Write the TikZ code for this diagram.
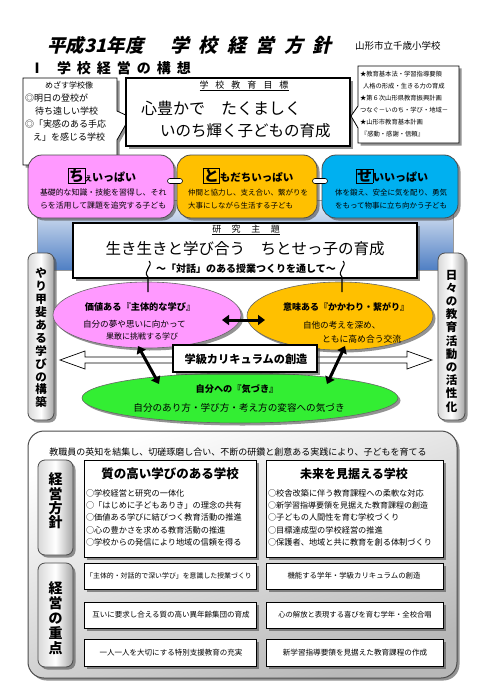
\documentclass[tikz,border=0pt]{standalone}
\usepackage{fontspec}
\setmainfont{Noto Sans CJK JP}
\newfontfamily\jpsl[FakeSlant=0.22]{Noto Sans CJK JP}
\usetikzlibrary{shapes.geometric,arrows.meta,shadows,calc}
\newcommand\fsz[1]{\fontsize{#1}{#1}\selectfont}
\newcommand\fszb[2]{\fontsize{#1}{#2}\selectfont}
\definecolor{cpink}{HTML}{FF99FF}
\definecolor{corange}{HTML}{FFC000}
\definecolor{cblue}{HTML}{00B0F0}
\definecolor{cgreen}{HTML}{33EE33}
\definecolor{bgblue}{HTML}{4F7FC4}
\tikzset{
 lbl/.style={inner sep=0pt, outer sep=0pt},
 bx/.style={draw=black, fill=white, line width=0.8pt, inner sep=0pt},
 shd/.style={drop shadow={shadow xshift=2.5pt, shadow yshift=-2.5pt, opacity=0.6, fill=black!70}},
 topbox/.style={draw=black!70, line width=0.8pt, rounded corners=14pt, minimum height=63pt, inner sep=0pt, shd},
 vbar/.style={draw=black!70, line width=0.8pt, rounded corners=7pt, inner sep=0pt, left color=black!15, right color=black!35, middle color=white, shd},
 ell/.style={ellipse, draw=black!60, line width=0.6pt, inner sep=0pt, shd},
 dblarr/.style={{Triangle[length=7pt,width=10pt]}-{Triangle[length=7pt,width=10pt]}, line width=3pt},
 squig/.style={draw=black, line width=1.1pt},
}
\begin{document}
\begin{tikzpicture}[x=1pt,y=-1pt]
\useasboundingbox (0,0) rectangle (483,693);
\fill[white] (0,0) rectangle (483,693);

% title
\node[lbl, anchor=west, font=\jpsl\bfseries\fsz{18.5}] (t1) at (47,45) {平成31年度};
\node[lbl, anchor=west, font=\jpsl\bfseries\fsz{19}] (t2) at (170,45) {学\hspace{9.5pt}校\hspace{9.5pt}経\hspace{9.5pt}営\hspace{9.5pt}方\hspace{9.5pt}針};
\node[lbl, anchor=west, font=\fsz{9.5}] (school) at (355,46) {山形市立千歳小学校};
\node[lbl, font=\bfseries\fsz{14}] (secn) at (37,68) {Ⅰ};
\node[lbl, anchor=west, font=\bfseries\fsz{14}] (sec) at (57,68) {学\hspace{6pt}校\hspace{6pt}経\hspace{6pt}営\hspace{6pt}の\hspace{6pt}構\hspace{6pt}想};

% blue background band
\shade[top color=bgblue!12, bottom color=bgblue, draw=black!40, line width=0.4pt] (37,200) rectangle (453,270);

% left callout
\draw[fill=white, line width=0.8pt, shd] (23,78) -- (117,78) -- (117,111) -- (130,117) -- (117,140) -- (117,165) -- (23,165) -- cycle;
\node[lbl, font=\fsz{8}] (cl1) at (69,85) {めざす学校像};
\node[lbl, anchor=west, font=\fsz{9}] (cl2) at (25,98) {◎明日の登校が};
\node[lbl, anchor=west, font=\fsz{9}] (cl3) at (35,111) {待ち遠しい学校};
\node[lbl, anchor=west, font=\fsz{9}] (cl4) at (25,124) {◎「実感のある手応};
\node[lbl, anchor=west, font=\fsz{9}] (cl5) at (33,137) {え」を感じる学校};

% main goal box
\node[bx, line width=1.6pt, minimum width=224pt, minimum height=68pt, shd] (goal) at (238,112) {};
\node[lbl, font=\fsz{9}] (goalh) at (244,86) {\underline{学\hspace{7pt}校\hspace{7pt}教\hspace{7pt}育\hspace{7pt}目\hspace{7pt}標}};
\node[lbl, anchor=west, font=\fsz{16}] (g1) at (141,108) {心豊かで　たくましく};
\node[lbl, anchor=west, font=\fsz{15.5}] (g2) at (160,131) {いのち輝く子どもの育成};

% right callout
\draw[fill=white, line width=0.8pt, shd] (358,66) -- (459,66) -- (459,143) -- (358,143) -- (358,128) -- (351,116) -- (358,106) -- cycle;
\node[lbl, anchor=west, font=\fsz{6.3}] (r1) at (360,74) {★教育基本法・学習指導要領};
\node[lbl, anchor=west, font=\fsz{6.3}] (r2) at (363,86) {人格の形成・生きる力の育成};
\node[lbl, anchor=west, font=\fsz{6.3}] (r3) at (360,98) {★第６次山形県教育振興計画};
\node[lbl, anchor=west, font=\fsz{6.3}] (r4) at (360,110) {つなぐ－いのち・学び・地域－};
\node[lbl, anchor=west, font=\fsz{6.3}] (r5) at (360,122) {★山形市教育基本計画};
\node[lbl, anchor=west, font=\fsz{6.3}] (r6) at (361,134) {『感動・感謝・信頼』};

% three top boxes
\node[topbox, fill=cpink, minimum width=146pt] (chi) at (101,186.5) {};
\node[topbox, fill=corange, minimum width=140pt] (tomo) at (247,186.5) {};
\node[topbox, fill=cblue, minimum width=136pt] (sei) at (390,186.5) {};
\node[lbl, font=\bfseries] (chih) at (102,176) {{\fboxsep=0.5pt\fboxrule=0.6pt\fbox{\fsz{15}ち}}{\fsz{7}え}{\fsz{11}いっぱい}};
\node[lbl, font=\bfseries] (tomoh) at (248,176) {{\fboxsep=0.5pt\fboxrule=0.6pt\fbox{\fsz{15}と}}{\fsz{10.5}もだちいっぱい}};
\node[lbl, font=\bfseries] (seih) at (392,176) {{\fboxsep=0.5pt\fboxrule=0.6pt\fbox{\fsz{15}せ}}{\fsz{11}いいっぱい}};
\node[lbl, anchor=west, font=\fsz{7.9}] (chi1) at (40,193) {基礎的な知識・技能を習得し、それ};
\node[lbl, anchor=west, font=\fsz{7.9}] (chi2) at (40,206) {らを活用して課題を追究する子ども};
\node[lbl, anchor=west, font=\fsz{7.5}] (tomo1) at (188,193) {仲間と協力し、支え合い、繋がりを};
\node[lbl, anchor=west, font=\fsz{7.5}] (tomo2) at (188,206) {大事にしながら生活する子ども};
\node[lbl, anchor=west, font=\fsz{7.5}] (sei1) at (335,193) {体を鍛え、安全に気を配り、勇気};
\node[lbl, anchor=west, font=\fsz{7.5}] (sei2) at (335,206) {をもって物事に立ち向かう子ども};
\node[draw, fill=white, rounded corners=2.5pt, minimum width=15pt, minimum height=5pt, line width=0.6pt, inner sep=0pt] (lk1) at (175,181) {};
\node[draw, fill=white, rounded corners=2.5pt, minimum width=15pt, minimum height=5pt, line width=0.6pt, inner sep=0pt] (lk2) at (320,181) {};

% research theme
\node[bx, line width=1.2pt, minimum width=344pt, minimum height=55pt, shd] (theme) at (245,250.5) {};
\node[lbl, font=\fsz{9}] (themeh) at (246,230) {\underline{研\hspace{10.5pt}究\hspace{10.5pt}主\hspace{10.5pt}題}};
\node[lbl, font=\fsz{15.5}] (theme1) at (245,249) {生き生きと学び合う　ちとせっ子の育成};
\node[lbl, font=\bfseries\fsz{10}] (theme2) at (246,269) {～「対話」のある授業つくりを通して～};

% side bars
\node[vbar, minimum width=26pt, minimum height=167pt] (lbar) at (41,336.5) {};
\node[lbl, align=center, font=\bfseries\fszb{11.5}{12.9}] (lbart) at (41,338) {や\\り\\甲\\斐\\あ\\る\\学\\び\\の\\構\\築};
\node[vbar, minimum width=27pt, minimum height=167pt] (rbar) at (451.5,336.5) {};
\node[lbl, align=center, font=\bfseries\fszb{11.5}{13.2}] (rbart) at (451.5,341) {日\\々\\の\\教\\育\\活\\動\\の\\活\\性\\化};

% hollow double arrow
\coordinate (hl) at (60,360);
\coordinate (hr) at (432,360);
\draw[fill=white, line width=0.7pt] (hl) -- (85,351) -- (85,357) -- (407,357) -- (407,351) -- (hr) -- (407,369) -- (407,363) -- (85,363) -- (85,369) -- cycle;

% ellipses
\node[ell, fill=cpink, minimum width=188pt, minimum height=66pt] (e1) at (147,315) {};
\node[ell, fill=corange, minimum width=186pt, minimum height=68pt] (e2) at (340,316) {};
\node[ell, fill=cgreen, minimum width=316pt, minimum height=50pt] (e3) at (240,398) {};
\node[lbl, font=\bfseries\fsz{9.2}] (e1h) at (140,307) {価値ある『主体的な学び』};
\node[lbl, anchor=west, font=\fsz{8.6}] (e1a) at (83,324) {自分の夢や思いに向かって};
\node[lbl, anchor=west, font=\fsz{8}] (e1b) at (106,336) {果敢に挑戦する学び};
\node[lbl, font=\bfseries\fsz{9}] (e2h) at (346,307) {意味ある『かかわり・繋がり』};
\node[lbl, anchor=west, font=\fsz{8.6}] (e2a) at (303,325) {自他の考えを深め、};
\node[lbl, anchor=west, font=\fsz{8.8}] (e2b) at (322,339) {ともに高め合う交流};
\node[lbl, font=\bfseries\fsz{9.2}] (e3h) at (237,389) {自分への『気づき』};
\node[lbl, font=\fsz{9.6}] (e3a) at (239,408) {自分のあり方・学び方・考え方の変容への気づき};

% squiggle connectors from theme
\coordinate (sq1a) at (149,261);
\coordinate (sq1b) at (148,292);
\coordinate (sq2a) at (343,261);
\coordinate (sq2b) at (342,292);
\draw[squig] (sq1a) .. controls (154,266) and (142,271) .. (148,277) -- (sq1b);
\draw[squig] (sq2a) .. controls (348,266) and (336,271) .. (342,277) -- (sq2b);

% curriculum box
\node[bx, line width=1.5pt, minimum width=144pt, minimum height=27pt, shd] (cur) at (245,358.5) {};
\node[lbl, font=\bfseries\fsz{11.2}] (curt) at (246,359) {学級カリキュラムの創造};

% black arrows
\coordinate (ha1) at (222,320);
\coordinate (ha2) at (265,320);
\coordinate (da1) at (138,346);
\coordinate (da2) at (159,384);
\coordinate (db1) at (345,346);
\coordinate (db2) at (327,384);
\draw[dblarr] (ha1) -- (ha2);
\draw[dblarr] (da1) -- (da2);
\draw[dblarr] (db1) -- (db2);

% bottom big panel
\node[draw=black!70, line width=1pt, rounded corners=16pt, minimum width=429pt, minimum height=247pt, inner sep=0pt, shd, top color=white, bottom color=black!28, shading angle=20] (bot) at (242.5,554.5) {};
\node[lbl, font=\fsz{9}] (bh) at (238,452) {教職員の英知を結集し、切磋琢磨し合い、不断の研鑽と創意ある実践により、子どもを育てる};

\node[vbar, minimum width=35pt, minimum height=95pt] (hl1) at (55.5,507.5) {};
\node[lbl, align=center, font=\bfseries\fszb{14}{14.3}] (hl1t) at (55.5,501) {経\\営\\方\\針};
\node[vbar, minimum width=35pt, minimum height=104pt] (hl2) at (55.5,615) {};
\node[lbl, align=center, font=\bfseries\fszb{14}{15}] (hl2t) at (55.5,618) {経\\営\\の\\重\\点};

\node[bx, minimum width=172pt, minimum height=97pt, shd] (p1) at (170,508.5) {};
\node[lbl, font=\bfseries\fsz{12.5}] (p1h) at (170,474) {質の高い学びのある学校};
\node[lbl, anchor=west, font=\fsz{8.2}] (p1a) at (86,493) {○学校経営と研究の一体化};
\node[lbl, anchor=west, font=\fsz{8.2}] (p1b) at (86,505.3) {○「はじめに子どもありき」の理念の共有};
\node[lbl, anchor=west, font=\fsz{8.2}] (p1c) at (86,517.6) {○価値ある学びに結びつく教育活動の推進};
\node[lbl, anchor=west, font=\fsz{8.2}] (p1d) at (86,530) {○心の豊かさを求める教育活動の推進};
\node[lbl, anchor=west, font=\fsz{8.2}] (p1e) at (86,542.3) {○学校からの発信により地域の信頼を得る};

\node[bx, minimum width=177pt, minimum height=97pt, shd] (p2) at (354.5,508.5) {};
\node[lbl, font=\bfseries\fsz{12}] (p2h) at (354,474) {未来を見据える学校};
\node[lbl, anchor=west, font=\fsz{8.2}] (p2a) at (268,493) {○校舎改築に伴う教育課程への柔軟な対応};
\node[lbl, anchor=west, font=\fsz{8}] (p2b) at (268,505.3) {○新学習指導要領を見据えた教育課程の創造};
\node[lbl, anchor=west, font=\fsz{8.2}] (p2c) at (268,517.6) {○子どもの人間性を育む学校づくり};
\node[lbl, anchor=west, font=\fsz{8.2}] (p2d) at (268,530) {○目標達成型の学校経営の推進};
\node[lbl, anchor=west, font=\fsz{8.2}] (p2e) at (268,542.3) {○保護者、地域と共に教育を創る体制づくり};

\node[bx, minimum width=172pt, minimum height=26pt, shd] (k1) at (170,576) {};
\node[bx, minimum width=177pt, minimum height=26pt, shd] (k2) at (354.5,576) {};
\node[bx, minimum width=172pt, minimum height=26pt, shd] (k3) at (170,615) {};
\node[bx, minimum width=177pt, minimum height=26pt, shd] (k4) at (354.5,615) {};
\node[bx, minimum width=172pt, minimum height=27pt, shd] (k5) at (170,653) {};
\node[bx, minimum width=177pt, minimum height=27pt, shd] (k6) at (354.5,653) {};
\node[lbl, font=\fsz{6.9}] (k1t) at (169,576) {「主体的・対話的で深い学び」を意識した授業づくり};
\node[lbl, font=\fsz{7.4}] (k2t) at (354,576) {機能する学年・学級カリキュラムの創造};
\node[lbl, font=\fsz{7.5}] (k3t) at (171,615) {互いに要求し合える質の高い異年齢集団の育成};
\node[lbl, font=\fsz{7.3}] (k4t) at (355,615) {心の解放と表現する喜びを育む学年・全校合唱};
\node[lbl, font=\fsz{7.5}] (k5t) at (171,653) {一人一人を大切にする特別支援教育の充実};
\node[lbl, font=\fsz{7.6}] (k6t) at (355,653) {新学習指導要領を見据えた教育課程の作成};
\end{tikzpicture}
\end{document}
